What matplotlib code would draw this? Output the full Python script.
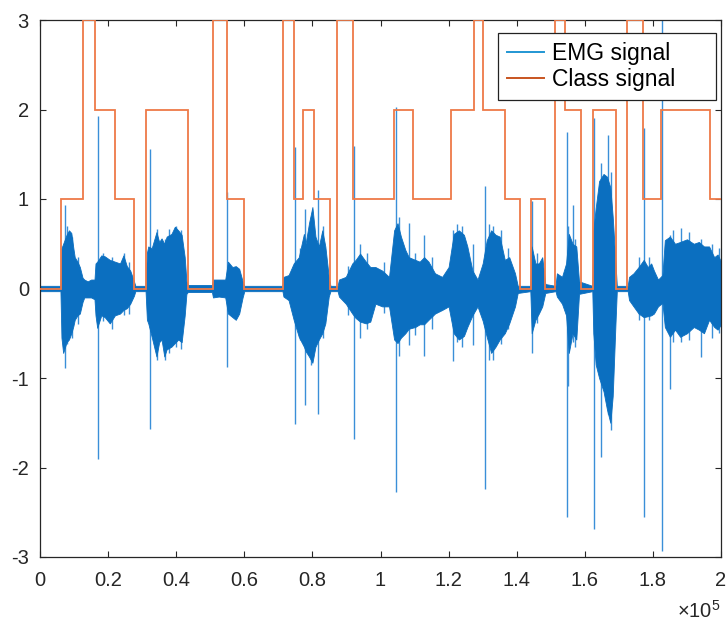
import numpy as np
import matplotlib
matplotlib.use("Agg")
from matplotlib import pyplot as plt
from matplotlib.lines import Line2D

plt.rcParams['font.family'] = ['Liberation Sans', 'DejaVu Sans']
plt.rcParams['axes.unicode_minus'] = False
plt.rcParams['mathtext.default'] = 'regular'

# class signal: step edges (x1000 samples) and level between them
class_edges = [0, 6.2, 12.7, 16.2, 22.0, 27.7, 31.0, 43.4, 50.7, 54.9, 59.9,
               71.3, 74.5, 77.1, 80.6, 85.1, 87.3, 91.9, 104.1, 109.6, 120.8,
               127.5, 130.2, 136.5, 140.9, 144.1, 148.2, 151.2, 154.2, 158.8,
               162.3, 169.2, 172.4, 177.1, 182.4, 196.9, 200.0]
class_levels = [0, 1, 3, 2, 1, 0, 2, 0, 3, 1, 0,
                3, 1, 2, 1, 0, 3, 1, 2, 1, 2,
                3, 2, 1, 0, 1, 0, 3, 2, 0,
                2, 0, 3, 1, 2, 1]

# EMG envelope (x1000 samples, upper, lower)
env_k = [0, 6.0, 6.3, 6.8, 7.8, 8.5, 9.2, 9.8, 10.2, 11.0, 11.7, 12.5, 13.0, 14.0, 15.0, 16.0,
         16.3, 16.8, 18.0, 19.0, 20.5, 22.0, 23.5, 24.5, 25.5, 26.5, 27.6, 28.0,
         31.0, 31.4, 31.8, 32.8, 34.2, 35.0, 35.7, 36.5, 37.2, 38.6, 39.6, 40.6, 41.6, 42.5, 43.0, 43.4,
         50.5, 50.8, 52.5, 54.4, 55.2, 56.5, 57.5, 58.5, 59.5, 60.0,
         71.2, 71.5, 73.0, 74.5, 76.0, 77.5, 78.0, 79.0, 80.0, 80.9, 81.9, 82.9, 83.8, 84.8, 85.3,
         87.4, 87.8, 89.8, 91.7, 92.7, 94.0, 95.7, 97.0, 98.5, 100.5, 102.5,
         104.0, 105.0, 106.0, 107.3, 108.3, 110.2, 111.5, 112.8, 114.1, 116.0, 118.1,
         120.0, 121.5, 123.0, 124.5, 125.5, 127.0, 128.5, 130.0, 131.2, 132.5, 133.8, 135.0,
         136.5, 137.8, 139.5, 140.3, 144.0, 144.4, 145.5, 146.5, 147.5, 148.4,
         151.4, 151.8, 153.3, 154.5, 155.3, 156.4, 157.5, 158.3,
         162.2, 162.5, 163.2, 164.2, 165.5, 166.5, 167.5, 168.2, 169.0, 169.4,
         172.6, 173.0, 174.3, 175.8, 177.3, 178.5, 179.5, 180.3, 181.5, 182.8,
         183.5, 185.0, 186.5, 188.0, 190.0, 192.0, 193.5, 195.0, 196.5, 198.0, 199.0, 200.0]
env_hi = [0.03, 0.03, 0.45, 0.5, 0.6, 0.65, 0.62, 0.45, 0.35, 0.3, 0.24, 0.12, 0.1, 0.08, 0.1, 0.1,
          0.28, 0.3, 0.37, 0.36, 0.32, 0.3, 0.28, 0.37, 0.25, 0.2, 0.08, 0.03,
          0.03, 0.4, 0.47, 0.45, 0.63, 0.52, 0.56, 0.5, 0.58, 0.61, 0.69, 0.65, 0.6, 0.35, 0.08, 0.04,
          0.04, 0.1, 0.1, 0.1, 0.3, 0.24, 0.25, 0.22, 0.08, 0.03,
          0.03, 0.13, 0.15, 0.28, 0.35, 0.61, 0.5, 0.73, 0.91, 0.58, 0.47, 0.65, 0.47, 0.13, 0.03,
          0.03, 0.1, 0.13, 0.28, 0.32, 0.39, 0.3, 0.24, 0.24, 0.2, 0.13,
          0.65, 0.73, 0.58, 0.43, 0.35, 0.32, 0.3, 0.35, 0.3, 0.17, 0.13,
          0.24, 0.61, 0.65, 0.6, 0.47, 0.2, 0.1, 0.28, 0.54, 0.65, 0.6, 0.58,
          0.32, 0.35, 0.17, 0.03, 0.03, 0.47, 0.28, 0.28, 0.35, 0.05,
          0.03, 0.17, 0.13, 0.28, 0.61, 0.5, 0.47, 0.08,
          0.03, 0.65, 0.9, 1.2, 1.28, 1.25, 1.13, 0.8, 0.3, 0.03,
          0.03, 0.13, 0.17, 0.24, 0.32, 0.24, 0.28, 0.2, 0.1, 0.15,
          0.54, 0.58, 0.5, 0.52, 0.55, 0.5, 0.52, 0.47, 0.47, 0.35, 0.38, 0.3]
env_lo = [-0.03, -0.03, -0.55, -0.72, -0.6, -0.57, -0.5, -0.42, -0.35, -0.3, -0.28, -0.15, -0.1, -0.1, -0.1, -0.12,
          -0.3, -0.44, -0.3, -0.32, -0.39, -0.3, -0.28, -0.24, -0.22, -0.17, -0.08, -0.03,
          -0.03, -0.35, -0.39, -0.54, -0.76, -0.6, -0.57, -0.76, -0.68, -0.65, -0.61, -0.57, -0.6, -0.3, -0.06, -0.04,
          -0.04, -0.1, -0.09, -0.1, -0.28, -0.32, -0.35, -0.28, -0.1, -0.03,
          -0.03, -0.09, -0.13, -0.35, -0.54, -0.65, -0.7, -0.76, -0.83, -0.65, -0.57, -0.5, -0.39, -0.09, -0.03,
          -0.03, -0.09, -0.17, -0.28, -0.33, -0.37, -0.39, -0.37, -0.17, -0.2, -0.2,
          -0.57, -0.61, -0.55, -0.5, -0.45, -0.43, -0.4, -0.4, -0.35, -0.28, -0.24,
          -0.2, -0.5, -0.57, -0.53, -0.43, -0.3, -0.2, -0.36, -0.54, -0.72, -0.65, -0.57,
          -0.5, -0.39, -0.2, -0.05, -0.03, -0.5, -0.35, -0.28, -0.2, -0.05,
          -0.03, -0.09, -0.17, -0.3, -0.72, -0.5, -0.57, -0.06,
          -0.03, -0.5, -0.85, -1.0, -1.15, -1.35, -1.5, -1.2, -0.4, -0.03,
          -0.03, -0.13, -0.2, -0.28, -0.32, -0.31, -0.3, -0.28, -0.2, -0.16,
          -0.43, -0.54, -0.46, -0.54, -0.5, -0.43, -0.46, -0.5, -0.35, -0.43, -0.46, -0.4]

# single spikes / needles sticking out of the bursts (x1000 samples, top, bottom)
spike_k = [7.3, 8.0, 9.5, 11.2, 17.0, 18.5, 21.0, 24.7, 26.0,
           32.4, 34.3, 36.6, 38.0, 40.0, 41.5, 54.9,
           74.8, 76.5, 77.7, 79.5, 81.6, 83.0, 90.5, 92.2, 94.0, 96.0, 101.0,
           104.6, 105.5, 108.3, 110.0, 112.8, 115.0, 121.2, 122.5, 124.0, 127.3,
           130.7, 132.0, 133.0, 135.5, 137.5, 144.6, 146.0,
           154.8, 155.1, 156.4, 157.0, 162.7, 164.9, 166.7, 167.6,
           176.0, 177.5, 179.0, 182.8, 185.1, 186.0, 188.2, 190.5, 194.1, 197.5, 199.3]
spike_top = [0.93, 0.7, 0.58, 0.35, 1.93, 0.4, 0.35, 0.4, 0.3,
             1.56, 0.66, 0.55, 0.66, 0.7, 0.65, 1.08,
             1.58, 0.45, 0.89, 0.8, 1.10, 0.7, 0.25, 1.59, 0.5, 0.4, 0.3,
             2.03, 0.8, 0.73, 0.4, 0.6, 0.35, 0.65, 0.72, 0.7, 0.5,
             1.15, 0.72, 0.7, 0.65, 0.45, 0.98, 0.4,
             1.75, 0.7, 0.93, 0.55, 1.9, 1.4, 1.72, 1.3,
             0.35, 1.79, 0.35, 3.2, 0.6, 0.65, 0.68, 0.63, 0.55, 0.5, 0.45]
spike_bot = [-0.89, -0.62, -0.55, -0.4, -1.9, -0.36, -0.45, -0.3, -0.28,
             -1.57, -0.8, -0.8, -0.72, -0.65, -0.68, -0.88,
             -1.51, -0.58, -1.30, -0.85, -1.40, -0.55, -0.3, -1.68, -0.55, -0.45, -0.27,
             -2.27, -0.75, -0.63, -0.52, -0.75, -0.45, -0.81, -0.6, -0.65, -0.63,
             -2.24, -0.8, -0.8, -0.62, -0.45, -0.72, -0.38,
             -2.55, -1.09, -0.6, -0.65, -2.69, -1.88, -1.4, -1.58,
             -0.35, -2.55, -0.35, -2.93, -1.12, -0.6, -0.6, -0.58, -0.77, -0.55, -0.5]

emg_col = '#0b6fc0'
spike_col = '#3a8fd8'
class_col = '#ee7a48'
axis_col = '#262626'

fig = plt.figure(figsize=(7.28, 6.24), dpi=100)
ax = fig.add_axes([40/728, 1-557/624, 681/728, 537/624])

x = np.array(env_k)*1000
# needles under the dense part, so only the part outside the burst shows
ax.vlines(np.array(spike_k)*1000, spike_bot, spike_top, color=spike_col, lw=1.0, zorder=1)
ax.fill_between(x, env_lo, env_hi, color=emg_col, lw=0.6, zorder=2)

ax.stairs(class_levels, np.array(class_edges)*1000, color=class_col, lw=1.3, zorder=3, baseline=None)

ax.set_xlim(0, 2e5)
ax.set_ylim(-3, 3)
ax.set_xticks(np.arange(0, 2.01e5, 0.2e5))
ax.set_xticklabels(['0', '0.2', '0.4', '0.6', '0.8', '1', '1.2', '1.4', '1.6', '1.8', '2'])
ax.set_yticks(range(-3, 4))
ax.tick_params(direction='in', length=4, width=0.8, top=True, right=True,
               labelsize=14.5, colors=axis_col)
ax.tick_params(axis='x', pad=10)
ax.tick_params(axis='y', pad=8)
for s in ax.spines.values():
    s.set_color(axis_col)
    s.set_linewidth(0.9)

fig.text(721/728, 2/624, r'$\times10^5$', ha='right', va='bottom', fontsize=14.5, color=axis_col)

handles = [Line2D([], [], color='#2196d3', lw=1.4), Line2D([], [], color='#c8541f', lw=1.4)]
leg = ax.legend(handles, ['EMG signal     ', 'Class signal     '], loc='upper right',
                bbox_to_anchor=(716/728, 1-33/624), bbox_transform=fig.transFigure,
                borderaxespad=0, fontsize=16.5, fancybox=False, framealpha=1,
                handlelength=1.6, labelspacing=0.12, borderpad=0.4, handletextpad=0.35)
leg.get_frame().set_edgecolor('#222222')
leg.get_frame().set_linewidth(0.9)

plt.savefig('out.png', dpi=100)
